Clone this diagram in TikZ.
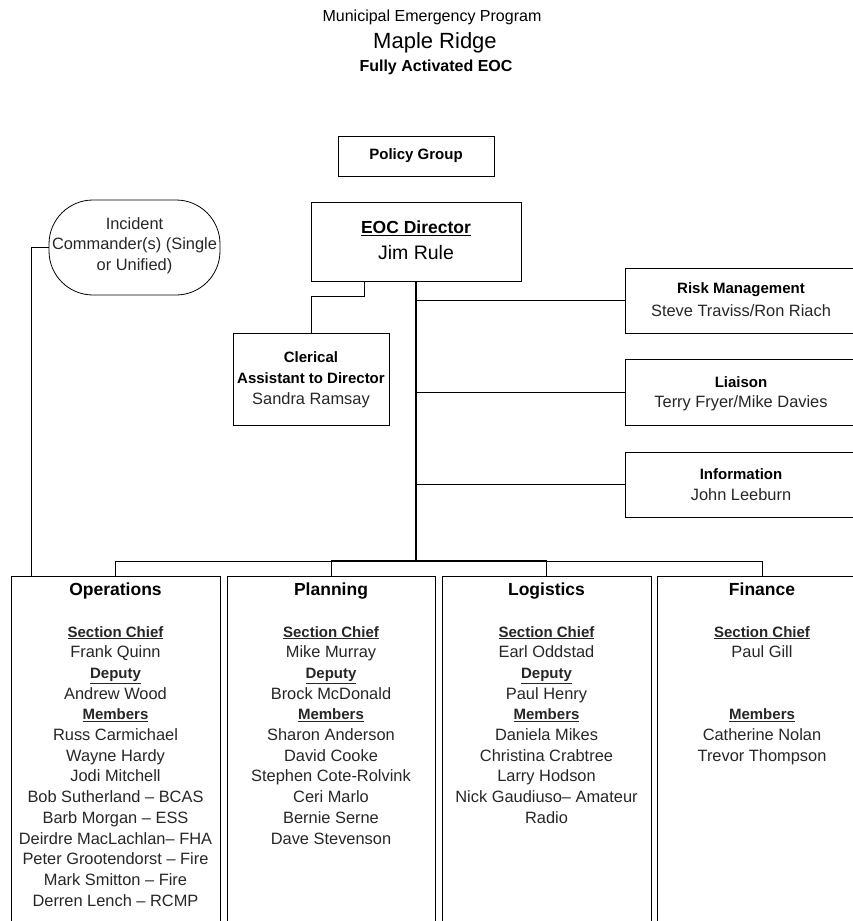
\documentclass[tikz,border=0pt]{standalone}
\usepackage{fontspec}
\setmainfont{Liberation Sans}
\begin{document}
\begin{tikzpicture}[x=1pt,y=-1pt,
  box/.style={draw, line width=0.8pt, inner sep=0pt},
  link/.style={draw, line width=0.8pt},
  trunk/.style={draw, line width=1.7pt},
  hd/.style={inner sep=0pt, font=\fontsize{15}{20.7}\selectfont\bfseries},
  sec/.style={inner sep=0pt, anchor=base, font=\fontsize{17.5}{20}\selectfont\bfseries},
  nm/.style={inner sep=0pt, font=\fontsize{16.4}{20.7}\selectfont, text=black!85},
  body/.style={inner sep=0pt, align=center, anchor=north, text=black!85,
    font=\fontsize{16.4}{20.7}\selectfont}]
\useasboundingbox (0,0) rectangle (853,921);
\clip (0,0) rectangle (853,921);

% heading
\node[inner sep=0pt, font=\fontsize{16}{18}\selectfont] (t1) at (432,17) {Municipal Emergency Program};
\node[inner sep=0pt, font=\fontsize{22}{24}\selectfont] (t2) at (435,43) {Maple Ridge};
\node[inner sep=0pt, font=\fontsize{16}{18}\selectfont\bfseries] (t3) at (436,67) {Fully Activated EOC};

% command staff boxes
\node[box, minimum width=156pt, minimum height=40pt] (policy) at (416,156) {};
\node[hd] at (policy.center) {Policy Group};

\node[box, minimum width=210pt, minimum height=79pt] (eoc) at (416,241.5) {};
\node[inner sep=0pt, font=\fontsize{17.5}{20}\selectfont\bfseries] at (416,228) {\underline{EOC Director}};
\node[inner sep=0pt, font=\fontsize{19.5}{22}\selectfont] at (416,253) {Jim Rule};

\node[box, rounded corners=44pt, minimum width=171pt, minimum height=95pt] (inc) at (134.5,247.5) {};
\node[body] at (134.5,217) {Incident\\Commander(s) (Single\\or Unified)};

\node[box, minimum width=156pt, minimum height=92pt] (cler) at (311,379) {};
\node[hd] at (311,357) {Clerical};
\node[hd] at (311,378) {Assistant to Director};
\node[nm] at (311,400) {Sandra Ramsay};

\node[box, minimum width=232pt, minimum height=65pt] (risk) at (741,300.5) {};
\node[hd] at (741,290) {Risk Management};
\node[nm] at (741,311) {Steve Traviss/Ron Riach};

\node[box, minimum width=232pt, minimum height=66pt] (liaison) at (741,392) {};
\node[hd] at (741,382) {Liaison};
\node[nm] at (741,403) {Terry Fryer/Mike Davies};

\node[box, minimum width=232pt, minimum height=65pt] (info) at (741,484.5) {};
\node[hd] at (741,474) {Information};
\node[nm] at (741,495) {John Leeburn};

% general staff sections (open at the foot of the page)
\node[box, minimum width=209pt, minimum height=380pt, anchor=north] (ops) at (115.5,576) {};
\node[box, minimum width=208pt, minimum height=380pt, anchor=north] (plan) at (331,576) {};
\node[box, minimum width=209pt, minimum height=380pt, anchor=north] (log) at (546.5,576) {};
\node[box, minimum width=209pt, minimum height=380pt, anchor=north] (fin) at (762,576) {};

\node[sec] at (115.5,595) {Operations};
\node[sec] at (331,595) {Planning};
\node[sec] at (546.5,595) {Logistics};
\node[sec] at (762,595) {Finance};

\node[body] at (115.5,626) {\underline{\bfseries\fontsize{15}{20.7}\selectfont Section Chief}\\Frank Quinn\\
  \underline{\bfseries\fontsize{15}{20.7}\selectfont Deputy}\\Andrew Wood\\
  \underline{\bfseries\fontsize{15}{20.7}\selectfont Members}\\Russ Carmichael\\Wayne Hardy\\Jodi Mitchell\\
  Bob Sutherland -- BCAS\\Barb Morgan -- ESS\\Deirdre MacLachlan-- FHA\\
  Peter Grootendorst -- Fire\\Mark Smitton -- Fire\\Derren Lench -- RCMP};
\node[body] at (331,626) {\underline{\bfseries\fontsize{15}{20.7}\selectfont Section Chief}\\Mike Murray\\
  \underline{\bfseries\fontsize{15}{20.7}\selectfont Deputy}\\Brock McDonald\\
  \underline{\bfseries\fontsize{15}{20.7}\selectfont Members}\\Sharon Anderson\\David Cooke\\
  Stephen Cote-Rolvink\\Ceri Marlo\\Bernie Serne\\Dave Stevenson};
\node[body] at (546.5,626) {\underline{\bfseries\fontsize{15}{20.7}\selectfont Section Chief}\\Earl Oddstad\\
  \underline{\bfseries\fontsize{15}{20.7}\selectfont Deputy}\\Paul Henry\\
  \underline{\bfseries\fontsize{15}{20.7}\selectfont Members}\\Daniela Mikes\\Christina Crabtree\\
  Larry Hodson\\Nick Gaudiuso-- Amateur\\Radio};
\node[body] at (762,626) {\underline{\bfseries\fontsize{15}{20.7}\selectfont Section Chief}\\Paul Gill\\[41.4pt]
  \underline{\bfseries\fontsize{15}{20.7}\selectfont Members}\\Catherine Nolan\\Trevor Thompson};

% connectors
\coordinate (incL) at (31,247);
\coordinate (busy) at (416,561);
\draw[link] (inc.west |- incL) -- (incL) -- (incL |- ops.north);
\draw[link] ([xshift=-52pt]eoc.south) -- ++(0,15) -| (cler.north);
\draw[link] (risk.west -| eoc.south) -- (risk.west);
\draw[link] (liaison.west -| eoc.south) -- (liaison.west);
\draw[link] (info.west -| eoc.south) -- (info.west);
\draw[link] (ops.north |- busy) -- (fin.north |- busy);
\draw[trunk] (plan.north |- busy) -- (log.north |- busy);
\draw[trunk] (eoc.south) -- (busy);
\draw[link] (ops.north |- busy) -- (ops.north);
\draw[link] (plan.north |- busy) -- (plan.north);
\draw[link] (log.north |- busy) -- (log.north);
\draw[link] (fin.north |- busy) -- (fin.north);
\end{tikzpicture}
\end{document}
